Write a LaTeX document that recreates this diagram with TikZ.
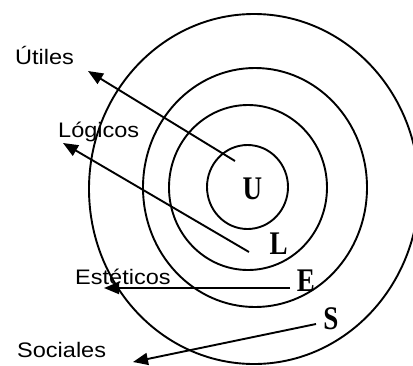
\documentclass[tikz,border=0pt]{standalone}
\usepackage{fontspec}
\setmainfont{Liberation Serif}
\newfontfamily\labsans{Liberation Sans}
\usetikzlibrary{arrows.meta}
\tikzset{
  ring/.style={line width=1.9pt},
  arr/.style={line width=1.9pt,-{Triangle[length=15pt,width=12pt]}},
  catlab/.style={inner sep=0pt,anchor=base west,font=\labsans\fontsize{21}{24}\selectfont},
  letter/.style={inner sep=0pt,anchor=center,font=\bfseries\fontsize{33}{36}\selectfont}
}
\begin{document}
\begin{tikzpicture}[x=1pt,y=-1pt]
\useasboundingbox (0,0) rectangle (413,365);
\clip (0,0) rectangle (413,365);
% rings
\draw[ring] (247.5,187) ellipse [x radius=40.5pt, y radius=42pt];
\draw[ring] (248,187.5) ellipse [x radius=79pt, y radius=82.5pt];
\draw[ring] (255,187.5) ellipse [x radius=112pt, y radius=119.5pt];
\draw[ring] (254,189) ellipse [x radius=165pt, y radius=175pt];
% letters
\node[letter] (U) at (252.5,189) {\scalebox{0.82}[1]{U}};
\node[letter] (L) at (278.7,244) {\scalebox{0.82}[1]{L}};
\node[letter] (E) at (305.8,280.8) {\scalebox{0.82}[1]{E}};
\node[letter] (S) at (330.8,318.3) {\scalebox{0.82}[1]{S}};
% labels
\node[catlab] (tU) at (15,64) {\scalebox{1.12}[1]{Útiles}};
\node[catlab] (tL) at (58,137) {\scalebox{1.12}[1]{Lógicos}};
\node[catlab] (tE) at (75,284) {\scalebox{1.12}[1]{Estéticos}};
\node[catlab] (tS) at (17,357) {\scalebox{1.12}[1]{Sociales}};
% arrow ends
\coordinate (u0) at (235,161);
\coordinate (u1) at (88,71);
\coordinate (l0) at (249,252);
\coordinate (l1) at (63,143);
\coordinate (e0) at (290,288);
\coordinate (e1) at (104,288);
\coordinate (s0) at (316,324);
\coordinate (s1) at (133,362);
\draw[arr] (u0) -- (u1);
\draw[arr] (l0) -- (l1);
\draw[arr] (e0) -- (e1);
\draw[arr] (s0) -- (s1);
\end{tikzpicture}
\end{document}
